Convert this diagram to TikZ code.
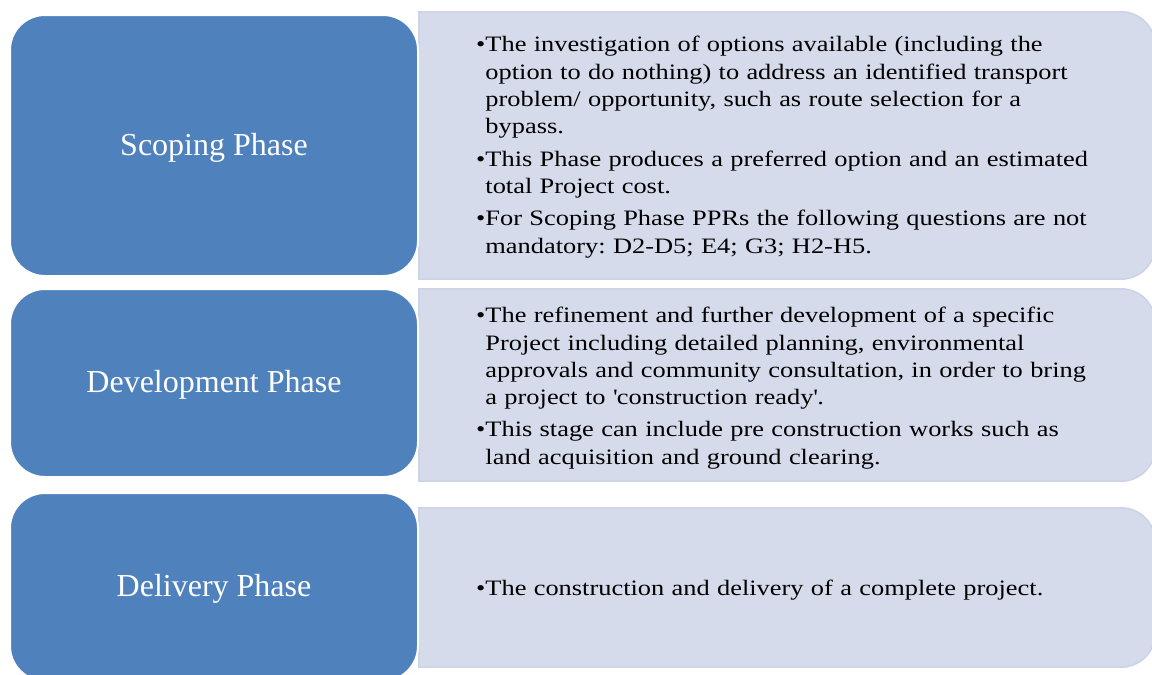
\documentclass[tikz,border=0pt]{standalone}
\usepackage{fontspec}
\setmainfont{Liberation Serif}
\newfontfamily\notefont[FakeStretch=1.2]{Liberation Serif}
\usepackage{xcolor}
\usepackage{tikz}
\usetikzlibrary{shapes,arrows}
\definecolor{phaseblue}{RGB}{79,129,189}
\definecolor{panelgrey}{RGB}{213,219,235}
\definecolor{paneledge}{RGB}{204,211,230}
\newcommand{\noteitem}[1]{\noindent\textbullet\begin{tabular}[t]{@{}l@{}}#1\end{tabular}\par}

\begin{document}
\begin{tikzpicture}[x=1pt,y=-1pt]
						\tikzset{phase/.style = {shape=rectangle,rounded corners=35pt,fill=phaseblue,draw=white,line width=2pt,text=white,font=\fontsize{32}{38}\selectfont,text height=23pt,text depth=4pt,minimum width=408pt,inner sep=0pt}}
						
						\tikzset{panel/.style = {shape=rectangle,minimum width=736pt,inner sep=0pt}}
						
						\tikzset{back/.style = {fill=panelgrey,draw=paneledge,line width=1.5pt}}
						
						\tikzset{notes/.style = {anchor=west,inner sep=0pt,text width=670pt,align=left,font=\notefont\fontsize{22}{27.3}\selectfont\frenchspacing\setlength{\parskip}{4pt}}}
						
						\useasboundingbox (0,0) rectangle (1152,675);
						
						% panels
						
						\node[panel,minimum height=267pt] (scopingback) at (787,145.5) {};
						
						\node[panel,minimum height=192pt] (developmentback) at (787,385) {};
						
						\node[panel,minimum height=159pt] (deliveryback) at (787,587.5) {};
						
						\foreach \p in {scopingback,developmentback,deliveryback}
						\path[back] (\p.south west) -- (\p.north west) [rounded corners=34pt] -- (\p.north east) -- (\p.south east) [sharp corners] -- cycle;
						
						% phases
						
						\node[phase,minimum height=261pt] (scoping) at (214,145.5) {Scoping Phase};
						
						\node[phase,minimum height=188pt] (development) at (214,383) {Development Phase};
						
						\node[phase,minimum height=188pt] (delivery) at (214,587) {Delivery Phase};
						
						% notes
						
						\node[notes] (scopingnotes) at (476,147) {%
						\noteitem{The investigation of options available (including the\\option to do nothing) to address an identified transport\\problem/ opportunity, such as route selection for a\\bypass.}
						\noteitem{This Phase produces a preferred option and an estimated\\total Project cost.}
						\noteitem{For Scoping Phase PPRs the following questions are not\\mandatory: D2-D5; E4; G3; H2-H5.}};
						
						\node[notes] (developmentnotes) at (476,388) {%
						\noteitem{The refinement and further development of a specific\\Project including detailed planning, environmental\\approvals and community consultation, in order to bring\\a project to \textquotesingle{}construction ready\textquotesingle.}
						\noteitem{This stage can include pre construction works such as\\land acquisition and ground clearing.}};
						
						\node[notes] (deliverynotes) at (476,590) {%
						\noteitem{The construction and delivery of a complete project.}};
				\end{tikzpicture}
\end{document}
